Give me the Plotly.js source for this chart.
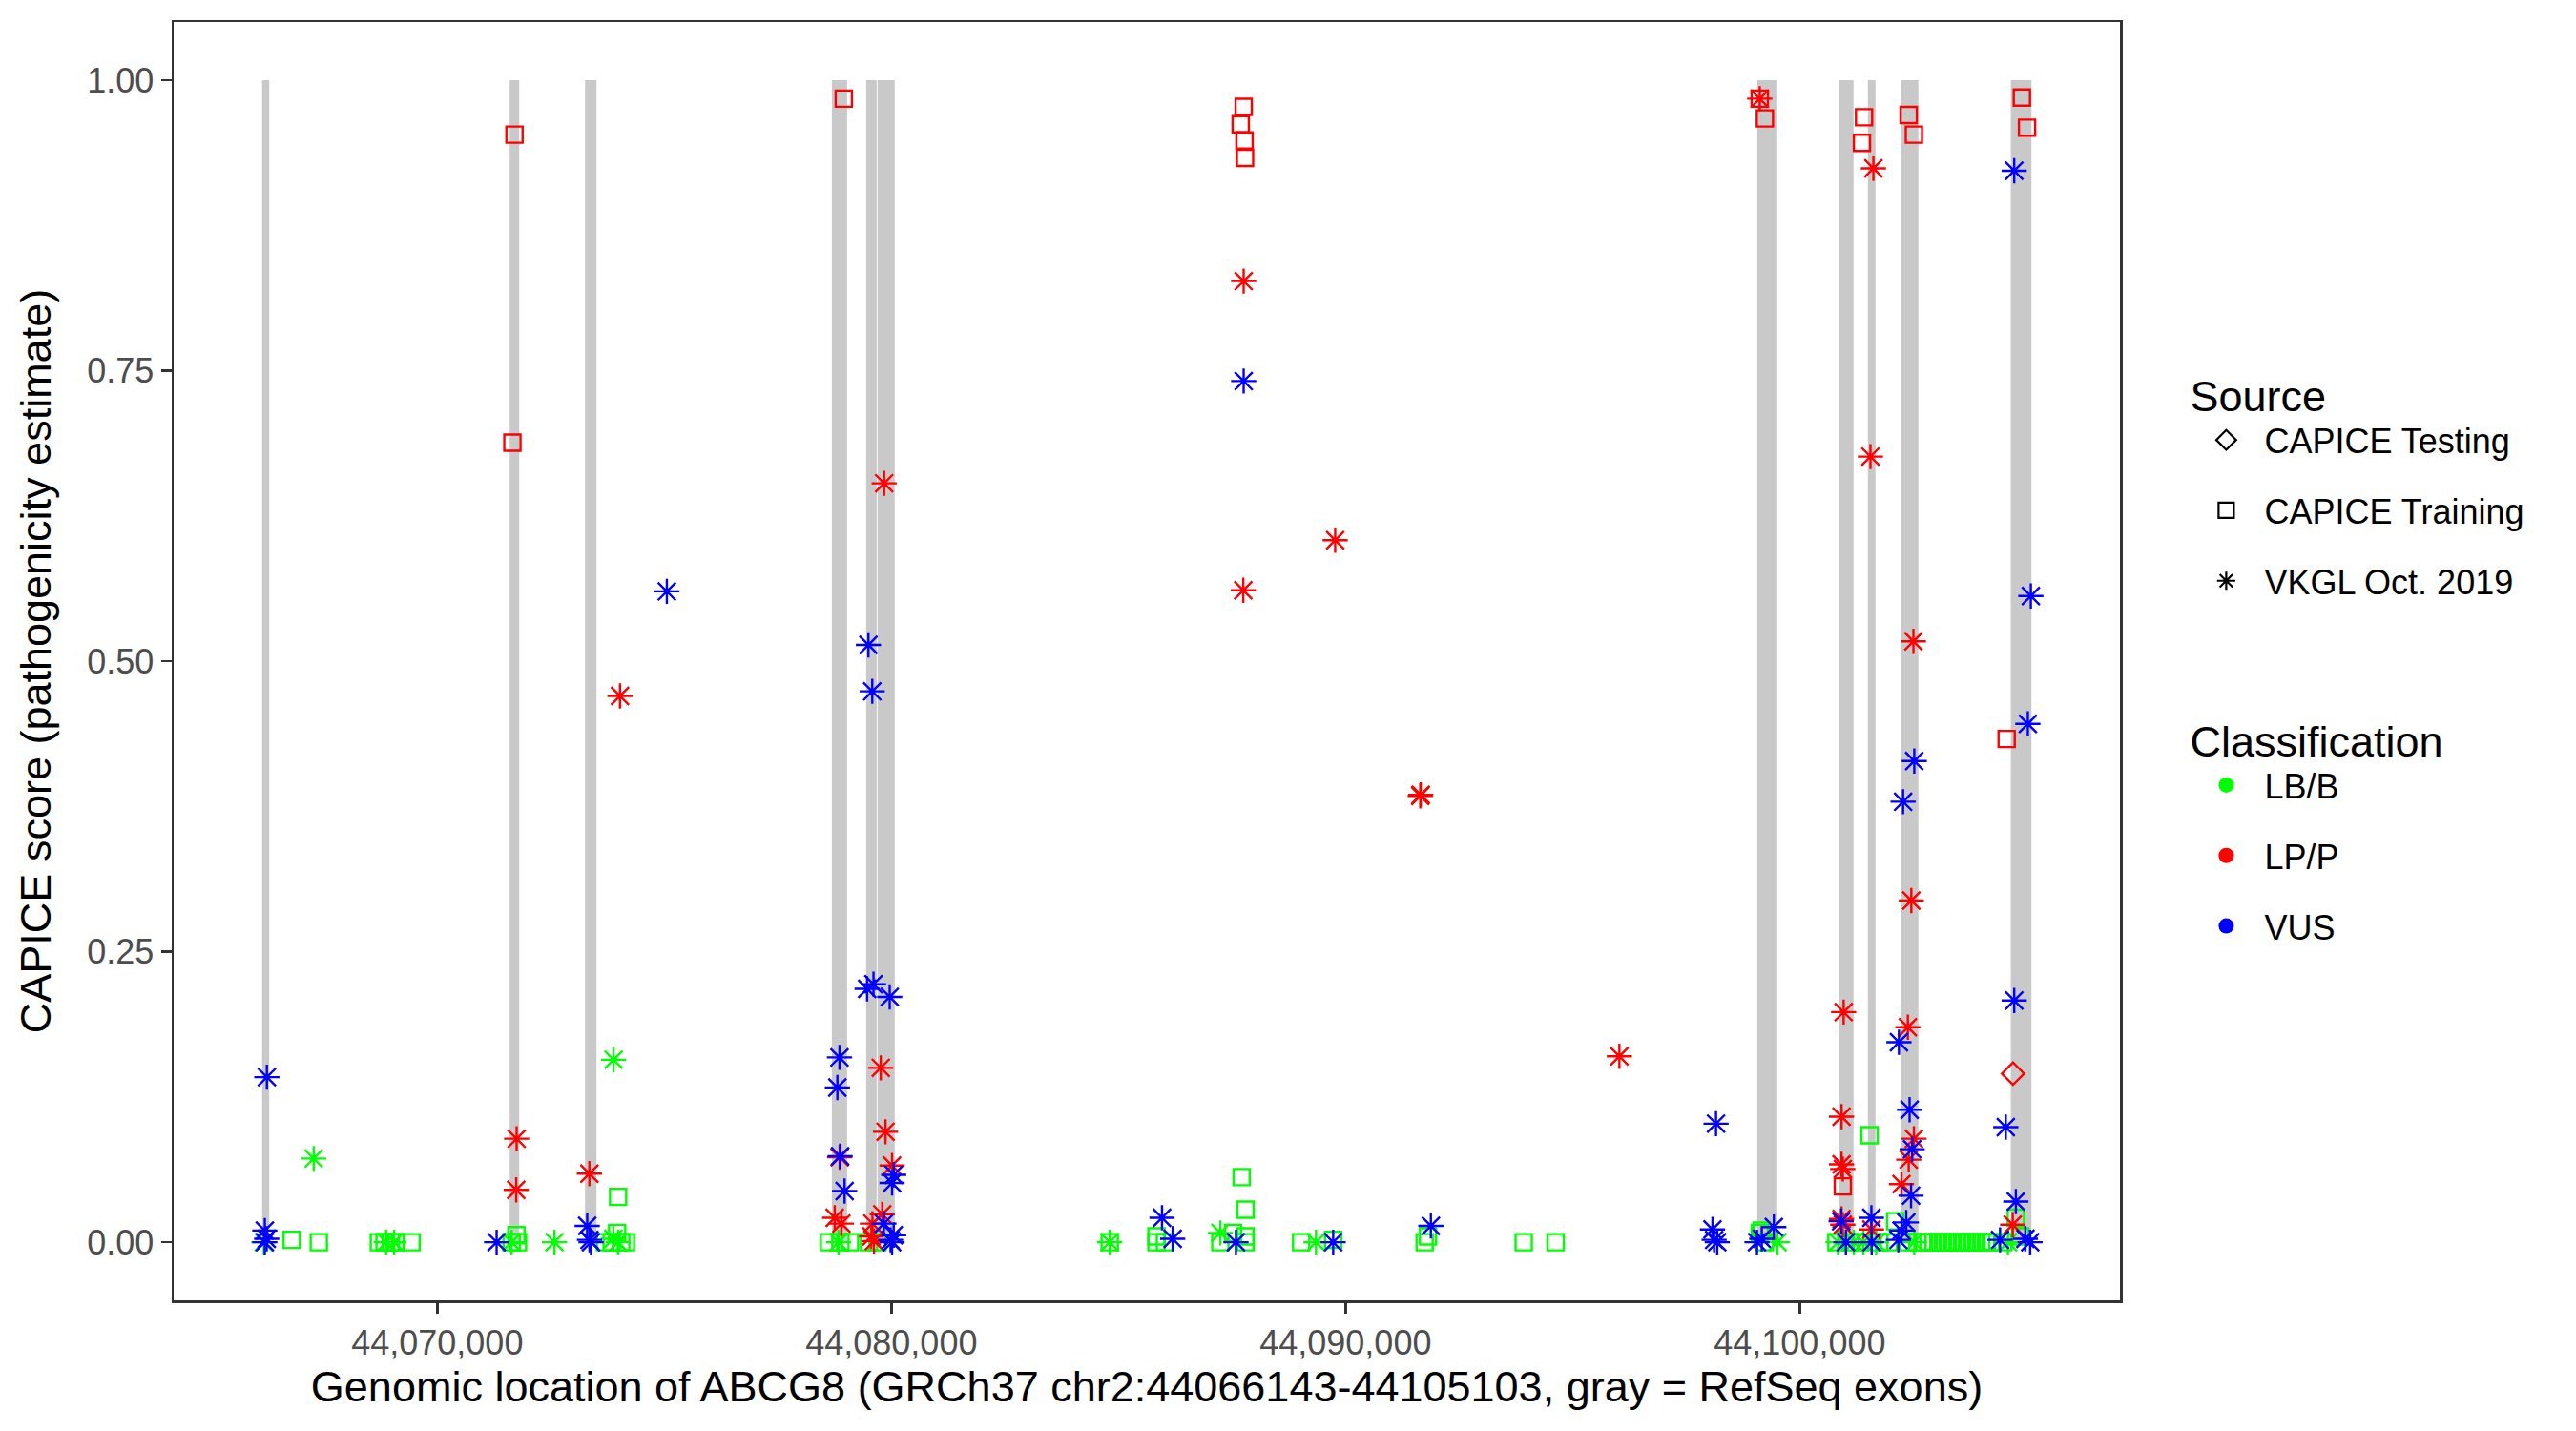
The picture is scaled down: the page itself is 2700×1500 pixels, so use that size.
<!DOCTYPE html>
<html>
<head>
<meta charset="utf-8">
<script src="https://cdn.plot.ly/plotly-3.0.1.min.js"></script>
<style>html,body{margin:0;padding:0;background:#fff;}#chart{width:2700px;height:1500px;}</style>
</head>
<body>
<div id="chart"></div>
<script>
// RefSeq exons (GRCh37, chr2)
const exonStart = [44066143, 44071595, 44073253, 44078688, 44079444, 44079695, 44099066, 44100870, 44101500, 44102234, 44104648];
const exonEnd   = [44066300, 44071805, 44073505, 44079024, 44079675, 44080073, 44099506, 44101185, 44101668, 44102612, 44105103];

const xTicks = [44070000, 44080000, 44090000, 44100000];
const yTicks = [0, 0.25, 0.5, 0.75, 1.0];

// CAPICE Training, LB/B
const trainBenignPos = [44066795, 44067391, 44068714, 44068839, 44068978, 44069083, 44069433, 44071742, 44071777, 44071637,
  44073981, 44073960, 44073694, 44073840, 44074050, 44074155, 44078625, 44078877, 44079087, 44079507, 44079689,
  44084806, 44085836, 44085836, 44086023, 44087710, 44087796, 44087523, 44087242, 44087796, 44087796, 44089022, 44089727,
  44091741, 44091815, 44093922, 44094625, 44099164, 44099120, 44099233, 44101538, 44102102, 44104759,
  44100807, 44101122, 44101331, 44101752, 44101962, 44102381, 44102591,
  44102738, 44102843, 44102948, 44103053, 44103158, 44103263, 44103368, 44103473, 44103578, 44103683, 44103788, 44103893, 44103997, 44104102, 44104207,
  44104480, 44104858];
const trainBenignScore = [0.002, 0, 0, 0, 0, 0, 0, 0.006, 0, 0,
  0.039, 0.008, 0, 0, 0, 0, 0, 0, 0, 0, 0,
  0, 0.005, 0, 0, 0.056, 0.028, 0.008, 0, 0, 0.005, 0, 0.002,
  0, 0.005, 0, 0, 0.010, 0.008, 0, 0.092, 0.018, 0.021,
  0, 0, 0, 0, 0, 0, 0,
  0, 0, 0, 0, 0, 0, 0, 0, 0, 0, 0, 0, 0, 0, 0,
  0, 0.005];

// VKGL Oct. 2019, LB/B
const vkglBenignPos = [44066181, 44067278, 44068873, 44069049, 44071637, 44072581, 44073882, 44073876, 44073981, 44078835,
  44084806, 44087242, 44089349, 44099512, 44100843, 44101191, 44101401, 44101683, 44102522, 44104585];
const vkglBenignScore = [0, 0.072, 0, 0, 0, 0, 0.157, 0.003, 0, 0,
  0, 0.008, 0, 0, 0, 0, 0, 0, 0, 0];

// CAPICE Training, LP/P
const trainPathoPos = [44071700, 44071654, 44078951, 44087756, 44087691, 44087775, 44087786, 44099120, 44099233,
  44101416, 44101370, 44102400, 44102514, 44104891, 44105005, 44104556, 44100948];
const trainPathoScore = [0.953, 0.688, 0.984, 0.977, 0.962, 0.948, 0.933, 0.984, 0.967,
  0.968, 0.946, 0.970, 0.953, 0.985, 0.959, 0.433, 0.048];

// VKGL Oct. 2019, LP/P
const vkglPathoPos = [44074023, 44071748, 44071738, 44073349, 44079840, 44087756, 44087748, 44089771, 44091645, 44091655,
  44079765, 44079870, 44078860, 44080014, 44078751, 44078898, 44079798, 44079582, 44079618, 44079559,
  44099120, 44101622, 44101557, 44102503, 44102457, 44100967, 44102381, 44096029, 44100921, 44102514,
  44102400, 44100921, 44100948, 44102240, 44100948, 44100921, 44101578, 44104690];
const vkglPathoScore = [0.470, 0.089, 0.045, 0.059, 0.653, 0.827, 0.561, 0.604, 0.384, 0.385,
  0.150, 0.095, 0.073, 0.066, 0.021, 0.016, 0.024, 0.016, 0.001, 0.005,
  0.984, 0.924, 0.676, 0.517, 0.294, 0.198, 0.185, 0.160, 0.108, 0.089,
  0.071, 0.067, 0.063, 0.050, 0.015, 0.020, 0.011, 0.015];

// CAPICE Testing, LP/P
const testPathoPos = [44104696];
const testPathoScore = [0.145];

// VKGL Oct. 2019, VUS
const vkglVusPos = [44075055, 44066248, 44066202, 44066202, 44066244, 44071307, 44073301, 44073351, 44073385,
  44079494, 44079578, 44087756, 44079465, 44079605, 44079962, 44078856, 44078810, 44078870, 44078969,
  44080050, 44080014, 44079834, 44080014, 44080050, 44079981, 44085958, 44086193, 44087586, 44089727, 44091878,
  44104723, 44105089, 44105023, 44102522, 44102276, 44104723, 44102184, 44098157, 44104537, 44102419,
  44102476, 44102451, 44104759, 44101578, 44102346, 44102240, 44100912, 44098079, 44098115, 44098184,
  44099059, 44099164, 44099429, 44104411, 44105074, 44104969, 44101017, 44101584, 44102172];
const vkglVusScore = [0.560, 0.142, 0.010, 0, 0.003, 0, 0.014, 0.002, 0,
  0.514, 0.474, 0.741, 0.218, 0.222, 0.211, 0.159, 0.133, 0.074, 0.044,
  0.058, 0.051, 0.016, 0, 0.006, 0.002, 0.021, 0.003, 0, 0, 0.014,
  0.922, 0.556, 0.446, 0.414, 0.379, 0.208, 0.172, 0.102, 0.099, 0.114,
  0.080, 0.040, 0.035, 0.021, 0.017, 0.010, 0.018, 0.011, 0.002, 0,
  0, 0.003, 0.013, 0.002, 0, 0.003, 0, 0, 0.002];

const sourceNames = ['CAPICE Testing', 'CAPICE Training', 'VKGL Oct. 2019'];
const classNames = ['LB/B', 'LP/P', 'VUS'];

const classColor = {'LB/B': '#00FF00', 'LP/P': '#FF0000', 'VUS': '#0000FF'};
const sourceSymbol = {'CAPICE Testing': 'diamond-open', 'CAPICE Training': 'square-open', 'VKGL Oct. 2019': 'asterisk-open'};
const sourceSize = {'CAPICE Testing': 18, 'CAPICE Training': 17, 'VKGL Oct. 2019': 22};

function pts(x, y, src, cls) {
  return {
    type: 'scatter', mode: 'markers', x: x, y: y, showlegend: false, hoverinfo: 'x+y',
    marker: {symbol: sourceSymbol[src], size: sourceSize[src], color: classColor[cls],
             line: {width: 2.4, color: classColor[cls]}}
  };
}

const traces = [
  pts(trainBenignPos, trainBenignScore, 'CAPICE Training', 'LB/B'),
  pts(vkglBenignPos, vkglBenignScore, 'VKGL Oct. 2019', 'LB/B'),
  pts(trainPathoPos, trainPathoScore, 'CAPICE Training', 'LP/P'),
  pts(vkglPathoPos, vkglPathoScore, 'VKGL Oct. 2019', 'LP/P'),
  pts(testPathoPos, testPathoScore, 'CAPICE Testing', 'LP/P'),
  pts(vkglVusPos, vkglVusScore, 'VKGL Oct. 2019', 'VUS')
];

sourceNames.forEach(function(s) {
  traces.push({type: 'scatter', mode: 'markers', x: [null], y: [null], name: s, legend: 'legend',
    legendgroup: 'src_' + s, showlegend: true,
    marker: {symbol: sourceSymbol[s], size: 16, color: '#000000', line: {width: 2.2, color: '#000000'}}});
});
classNames.forEach(function(c) {
  traces.push({type: 'scatter', mode: 'markers', x: [null], y: [null], name: c, legend: 'legend2',
    legendgroup: 'cls_' + c, showlegend: true,
    marker: {symbol: 'circle', size: 16, color: classColor[c]}});
});

const shapes = exonStart.map(function(s, i) {
  return {type: 'rect', xref: 'x', yref: 'y', x0: s, x1: exonEnd[i], y0: 0, y1: 1,
          fillcolor: '#C9C9C9', line: {width: 0}, layer: 'below'};
});

const font = 'Liberation Sans, Arial, Helvetica, sans-serif';
const layout = {
  width: 2700, height: 1500,
  margin: {l: 182, r: 478, t: 23, b: 137},
  paper_bgcolor: '#FFFFFF', plot_bgcolor: '#FFFFFF',
  font: {family: font, color: '#000000'},
  shapes: shapes,
  xaxis: {
    range: [44064195, 44107051], showgrid: false, zeroline: false,
    tickvals: xTicks, tickformat: ',d', ticks: 'outside', ticklen: 11, tickwidth: 2.5, tickcolor: '#333333',
    showline: true, mirror: true, linecolor: '#333333', linewidth: 2.5,
    tickfont: {size: 36, color: '#4D4D4D', family: font},
    title: {text: 'Genomic location of ABCG8 (GRCh37 chr2:44066143-44105103, gray = RefSeq exons)',
            font: {size: 45, color: '#000000', family: font}, standoff: 10}
  },
  yaxis: {
    range: [-0.05, 1.05], showgrid: false, zeroline: false,
    tickvals: yTicks, tickformat: '.2f', ticks: 'outside', ticklen: 11, tickwidth: 2.5, tickcolor: '#333333',
    showline: true, mirror: true, linecolor: '#333333', linewidth: 2.5,
    tickfont: {size: 36, color: '#4D4D4D', family: font},
    title: {text: 'CAPICE score (pathogenicity estimate)', font: {size: 45, color: '#000000', family: font}, standoff: 24}
  },
  legend: {
    x: 1.035, xanchor: 'left', y: 0.739, yanchor: 'top', bgcolor: 'rgba(0,0,0,0)',
    title: {text: 'Source', font: {size: 45, color: '#000000', family: font}},
    font: {size: 36, color: '#000000', family: font}, tracegroupgap: 24, itemwidth: 70
  },
  legend2: {
    x: 1.035, xanchor: 'left', y: 0.469, yanchor: 'top', bgcolor: 'rgba(0,0,0,0)',
    title: {text: 'Classification', font: {size: 45, color: '#000000', family: font}},
    font: {size: 36, color: '#000000', family: font}, tracegroupgap: 24, itemwidth: 70
  },
  hovermode: 'closest'
};

Plotly.newPlot('chart', traces, layout, {displayModeBar: false, staticPlot: true});
</script>
</body>
</html>
